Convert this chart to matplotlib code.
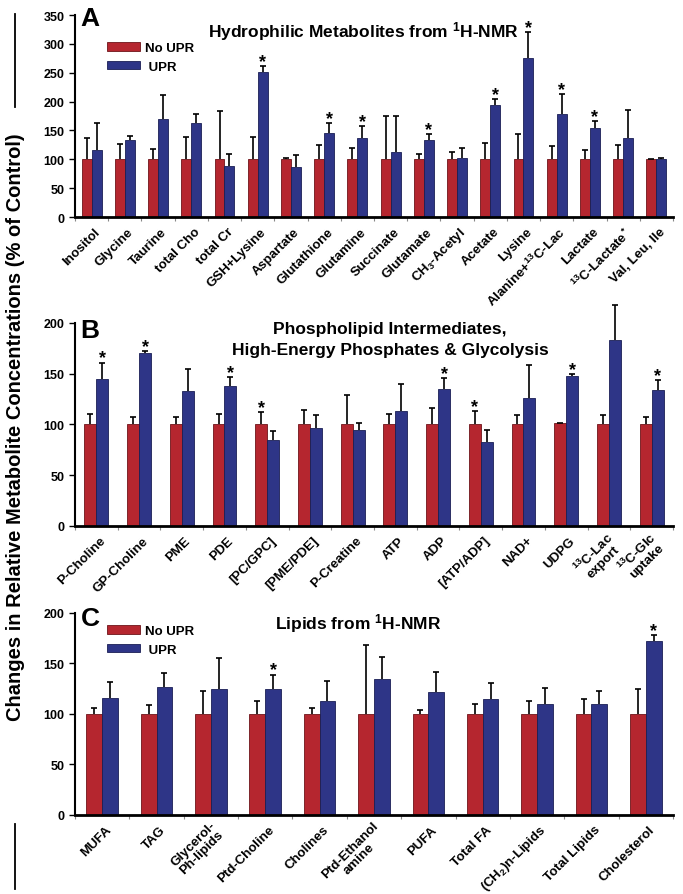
import matplotlib
matplotlib.use('Agg')
import matplotlib.pyplot as plt
import matplotlib.transforms as mtrans
import numpy as np
from matplotlib.lines import Line2D
from matplotlib.patches import Patch

plt.rcParams['font.family'] = ['Liberation Sans', 'DejaVu Sans']
plt.rcParams['font.weight'] = 'bold'
plt.rcParams['mathtext.fontset'] = 'custom'
plt.rcParams['mathtext.rm'] = 'Liberation Sans:bold'
plt.rcParams['mathtext.it'] = 'Liberation Sans:bold'
plt.rcParams['mathtext.bf'] = 'Liberation Sans:bold'

RED = '#b5262f'
BLUE = '#2e3587'

# --- panel A: hydrophilic metabolites ---
a_labels = ['Inositol', 'Glycine', 'Taurine', 'total Cho', 'total Cr', 'GSH+Lysine',
            'Aspartate', 'Glutathione', 'Glutamine', 'Succinate', 'Glutamate',
            'CH$_3$-Acetyl', 'Acetate', 'Lysine', 'Alanine+$^{13}$C-Lac', 'Lactate',
            '$^{13}$C-Lactate$^*$', 'Val, Leu, Ile']
a_red = [100, 100, 100, 100, 100, 100, 100, 100, 100, 100, 100, 100, 100, 100, 100, 100, 100, 101]
a_red_err = [37, 26, 17, 38, 83, 38, 3, 24, 19, 75, 9, 12, 29, 44, 23, 16, 25, 0]
a_blue = [116, 134, 170, 163, 88, 252, 87, 145, 137, 112, 133, 102, 194, 276, 178, 155, 137, 101]
a_blue_err = [47, 7, 42, 16, 22, 9, 21, 18, 20, 63, 11, 18, 10, 45, 35, 11, 49, 1]
a_sig_red = []
a_sig_blue = ['GSH+Lysine', 'Glutathione', 'Glutamine', 'Glutamate', 'Acetate', 'Lysine',
              'Alanine+$^{13}$C-Lac', 'Lactate']

# --- panel B: phospholipid intermediates, phosphates, glycolysis ---
b_labels = ['P-Choline', 'GP-Choline', 'PME', 'PDE', '[PC/GPC]', '[PME/PDE]', 'P-Creatine',
            'ATP', 'ADP', '[ATP/ADP]', 'NAD+', 'UDPG', '$^{13}$C-Lac\nexport',
            '$^{13}$C-Glc\nuptake']
b_red = [100, 100, 100, 100, 100, 100, 100, 100, 100, 100, 100, 101, 100, 100]
b_red_err = [10, 7, 7, 10, 12, 14, 29, 10, 16, 13, 9, 0, 9, 7]
b_blue = [145, 170, 133, 138, 85, 97, 95, 113, 135, 83, 126, 148, 183, 134]
b_blue_err = [16, 2, 22, 9, 9, 12, 6, 27, 11, 12, 33, 2, 35, 10]
b_sig_red = ['[PC/GPC]', '[ATP/ADP]']
b_sig_blue = ['P-Choline', 'GP-Choline', 'PDE', 'ADP', 'UDPG', '$^{13}$C-Glc\nuptake']

# --- panel C: lipids ---
c_labels = ['MUFA', 'TAG', 'Glycerol-\nPh-lipids', 'Ptd-Choline', 'Cholines',
            'Ptd-Ethanol\namine', 'PUFA', 'Total FA', '(CH$_2$)n-Lipids', 'Total Lipids',
            'Cholesterol']
c_red = [100, 100, 100, 100, 100, 100, 100, 100, 100, 100, 100]
c_red_err = [6, 9, 23, 13, 6, 68, 4, 10, 13, 15, 25]
c_blue = [116, 127, 125, 125, 113, 135, 122, 115, 110, 110, 172]
c_blue_err = [16, 14, 30, 14, 20, 21, 20, 16, 16, 13, 6]
c_sig_red = []
c_sig_blue = ['Ptd-Choline', 'Cholesterol']


def draw_errs(ax, x, vals, errs):
    # only the upper half of the error bar, like the original
    eb = ax.errorbar(x, vals, yerr=[np.zeros(len(vals)), errs], fmt='none', ecolor='black',
                     elinewidth=1.2, capsize=2.5, capthick=1.2, zorder=3)
    eb[1][0].set_visible(False)
    for art in list(eb[1]) + list(eb[2]):
        art.set_clip_on(False)


def draw_stars(ax, x, vals, errs, labels, sig):
    for xi, v, e, lab in zip(x, vals, errs, labels):
        if lab in sig:
            ax.annotate('*', (xi, v + e), xytext=(0, 0), textcoords='offset points',
                        ha='center', va='baseline', fontsize=13, fontweight='bold',
                        annotation_clip=False)


def draw_panel(ax, labels, red, red_err, blue, blue_err, sig_red, sig_blue, ymax, w):
    n = len(labels)
    x = np.arange(n)
    ax.bar(x - w / 2, red, w, color=RED, edgecolor='#6e1419', linewidth=0.6, zorder=2)
    ax.bar(x + w / 2, blue, w, color=BLUE, edgecolor='#1a1f55', linewidth=0.6, zorder=2)
    draw_errs(ax, x - w / 2, red, red_err)
    draw_errs(ax, x + w / 2, blue, blue_err)
    draw_stars(ax, x - w / 2, red, red_err, labels, sig_red)
    draw_stars(ax, x + w / 2, blue, blue_err, labels, sig_blue)

    ax.set_xlim(-0.5, n - 0.5)
    ax.set_ylim(0, ymax)
    ax.set_yticks(np.arange(0, ymax + 1, 50))
    ax.set_xticks([])
    ax.set_xticks(np.arange(n + 1) - 0.5, minor=True)
    ax.tick_params(axis='x', which='minor', length=3, width=0.8, color='#888888')
    ax.tick_params(axis='y', length=4, width=1, labelsize=9)
    for t in ax.get_yticklabels():
        t.set_fontweight('bold')
    # category names: slanted, end of each name a little right of the group centre
    shift = mtrans.ScaledTranslation(5 / 72, -9 / 72, ax.figure.dpi_scale_trans)
    for xi, lab in zip(x, labels):
        ax.text(xi, 0, lab, transform=ax.get_xaxis_transform() + shift, rotation=45,
                rotation_mode='anchor', ha='right', va='center', fontsize=9.5,
                fontweight='bold', multialignment='center', linespacing=1.0)
    for s in ['top', 'right']:
        ax.spines[s].set_visible(False)
    ax.spines['left'].set_linewidth(1.5)
    ax.spines['bottom'].set_linewidth(2)


fig = plt.figure(figsize=(6.83, 8.95), dpi=100)

axA = fig.add_axes([0.1098, 0.7564, 0.8755, 0.2257])
axB = fig.add_axes([0.1098, 0.4112, 0.8755, 0.2268])
axC = fig.add_axes([0.1098, 0.0883, 0.8755, 0.2257])

draw_panel(axA, a_labels, a_red, a_red_err, a_blue, a_blue_err, a_sig_red, a_sig_blue, 350, 0.30)
draw_panel(axB, b_labels, b_red, b_red_err, b_blue, b_blue_err, b_sig_red, b_sig_blue, 200, 0.28)
draw_panel(axC, c_labels, c_red, c_red_err, c_blue, c_blue_err, c_sig_red, c_sig_blue, 200, 0.29)

axA.text(0.483, 0.921, 'Hydrophilic Metabolites from $^{1}$H-NMR', transform=axA.transAxes,
         ha='center', va='center', fontsize=12.5, fontweight='bold')
axB.text(0.527, 0.921, 'Phospholipid Intermediates,\nHigh-Energy Phosphates & Glycolysis',
         transform=axB.transAxes, ha='center', va='center', fontsize=12.5, fontweight='bold',
         linespacing=1.45)
axC.text(0.473, 0.955, 'Lipids from $^{1}$H-NMR', transform=axC.transAxes,
         ha='center', va='center', fontsize=12.5, fontweight='bold')

for ax, letter, ly in [(axA, 'A', 0.985), (axB, 'B', 0.966), (axC, 'C', 0.975)]:
    ax.text(0.025, ly, letter, transform=ax.transAxes, ha='center', va='center',
            fontsize=19, fontweight='bold')

handles = [Patch(facecolor=RED, edgecolor='#6e1419', linewidth=0.6),
           Patch(facecolor=BLUE, edgecolor='#1a1f55', linewidth=0.6)]
for ax, ly in [(axA, 0.866), (axC, 0.94)]:
    leg = ax.legend(handles, ['No UPR', ' UPR'], loc='upper left', bbox_to_anchor=(0.0535, ly),
                    frameon=False, borderaxespad=0, borderpad=0, handlelength=2.5,
                    handleheight=0.6, labelspacing=0.5, handletextpad=0.4,
                    prop={'size': 9.5, 'weight': 'bold'})

fig.text(0.0234, 0.523, 'Changes in Relative Metabolite Concentrations (% of Control)',
         rotation=90, ha='center', va='center', fontsize=14.5, fontweight='bold')
fig.add_artist(Line2D([0.022, 0.022], [1 - 15 / 895, 1 - 108 / 895], color='black', lw=1.3))
fig.add_artist(Line2D([0.022, 0.022], [1 - 825 / 895, 1 - 890 / 895], color='black', lw=1.3))

fig.savefig('out.png', dpi=100)
